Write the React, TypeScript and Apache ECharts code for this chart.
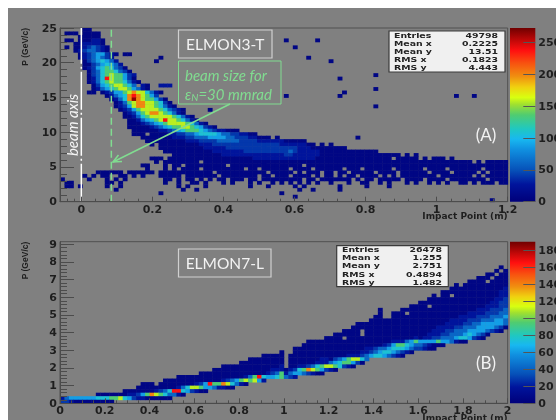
import React, { useEffect, useRef } from "react";
import * as echarts from "echarts";

// One string per P bin, top bin first; one character per Impact Point bin (groups of ten for reading).
// "." = empty bin, other characters index the count lists below.
const levelKeys = "123456789ab";
const levelCountsA = [8, 27, 40, 60, 88, 108, 135, 158, 200, 238, 265];
const levelCountsB = [6, 19, 28, 42, 61, 75, 94, 110, 140, 165, 185];

const rowsA = [
  ".....11...",
  ".111.1111.",
  "....11111.",
  ".11.111221 .......... .......... .......... .......... 1......1..",
  "...1122221",
  ".1.1123432 1......... .......... .......... .......... ..1.......",
  "...1234432 1",
  "....123455 321.11.... .......... .......... .......... .......... .......... ........1.",
  "....123454 32........ ..1....... .......... .......... .....1....",
  ".....13456 542....... .1........ .......... .......... .......... 1.........",
  ".....11345 6542",
  ".....12356 76431",
  "......1346 776431",
  "......1346 7877532... .......... .......... .......... .......... .......... 1.........",
  "......1246 a877531... .......... .......... .......... .......... ..1.......",
  "......1246 78776421",
  ".......135 6788764.21 ..222",
  ".......124 5678875421 .......... .......... .......... .......... .......... 1.........",
  "......11.1 2355789886 421....... .......... .......... .......... ...1......",
  ".......... 124569a987 53........ .......... .......... 1......... ..1....... .......... ........1. ..1.......",
  ".......... .12469b987 7531",
  ".......... ..12478998 87631",
  ".......... ..12358998 876421.... .......... .......... .......... .......... 1.........",
  ".......... ...1235788 88764321.. ...1......",
  ".......... ....123578 99876421",
  ".......... ....112467 8888876421",
  ".......... .....11245 678a887642 1",
  ".......... .....11123 4567888876 421",
  ".......... .....11111 2345677887 65321",
  ".......... ......1111 1122345677 7654322111",
  ".......... ......111. 1111223344 5666654433 2211",
  ".......... ........11 1111122233 4445555443 3322111.1. .......... ......1...",
  ".......... .........1 1111111122 2333344444 3333222222 11111",
  ".......... .......... 1.11111111 1222333333 3333333332 2222211.1. 1",
  ".......... .......... ..11111111 1122222333 3333333333 3332221111 1111",
  ".......... .......... ...1111111 1111222222 2333333333 3432222211 1111111111 1",
  ".......... .......... .....11111 1111112222 2222222222 3322222211 1111111111 111111.1.1",
  ".......... .......... 111.111111 1111111111 1112222222 2222222111 1111111111 1111.11111 .1.111.1",
  ".......... .......... .1.1111111 1.11111111 1111111111 1111111111 1111111111 1111111111 1111111111 11.1.11111",
  ".......... ........11 ...1.11.11 1111111.11 1111111111 1111.11111 1111111111 1111111111 1111111111 1111111111",
  ".......... .........1 ...1.1.111 1.11111111 1.11.11111 1.1111.111 111.111.11 1111.11111 1.1111.111 1111.11111",
  "........11 1111.11111 1.11111111 1111.11111 111111.111 11.1.111.1 1.11.11111 .1111.1111 11.1111.11 111.1.1111",
  ".....1.1.1 1..11.1.1. ..11111.11 11111.1111 1111.11.11 1.1111.1.1 1.1.11.111 1.1.1.1111 1111.11111 11.1.11111",
  "1.....1... 1.1.1..... ...11.1.11 .1.1.11.11 1.11.11111 1111.11.11 11111.1.11 .11111.111 1.1111.111 11111.1111",
  ".11....... 11.1...... ...1..1..1 1.1...1.1. ..1.1..1.1 .1.1.1.1.. 1...1..11. .1.1...1.1 ..1.1.1..1 1.1.111.11",
  ".11.1..... 1..1...... ......1.1. ..1....... ..1...1... ..1.1..... ..1.....1. ...1......",
  ".......... ..1....... .......1.. 1......... .......... ...1..1... ..1.......",
  ".......... .......... ..1....... .......... .........1",
  ".......... .......... .......... .......... .......... ..1.......",
  ".......... .......... .......... .......... .......... .......... .......... .......... .......... ......1...",
];

const rowsB = [
  ".......... .......... .......... .......... .......... .......... .......... .......... .......... ........1.",
  ".......... .......... .......... .......... .......... .......... .......... .......... .......... .......1.1",
  ".......... .......... .......... .......... .......... .......... .......... .......... .......... .....11.11",
  ".......... .......... .......... .......... .......... .......... .......... .......... .......... ...111.111",
  ".......... .......... .......... .......... .......... .......... .......... .......... .......... .1111.1111",
  ".......... .......... .......... .......... .......... .......... .......... .......... ........1. 1111111111",
  ".......... .......... .......... .......... .......... .......... .......... .......... .......111 1111111112",
  ".......... .......... .......... .......... .......... .......... .......... .......... .....11111 1111111122",
  ".......... .......... .......... .......... .......... .......... .......... .......... ...1.11.11 1111111122",
  ".......... .......... .......... .......... .......... .......... .......... .......... ..11111111 1111111223",
  ".......... .......... .......... .......... .......... .......... .......... .......... 1111111111 1111112233",
  ".......... .......... .......... .......... .......... .......... .......... ........11 11.1111111 1111122233",
  ".......... .......... .......... .......... .......... .......... .......... .1....1111 1111111111 1112223334",
  ".......... .......... .......... .......... .......... .......... .......... .1..111.11 1111111111 1222233344",
  ".......... .......... .......... .......... .......... .......... .......... 11..111111 1111111112 2223334445",
  ".......... .......... .......... .......... .......... .......... .........1 1111111111 1111111222 2333444554",
  ".......... .......... .......... .......... .......... .......... ......1111 1111111111 1111112222 3344555554",
  ".......... .......... .......... .......... .......... .......... .....11111 1111111111 1111222233 4445555431",
  ".......... .......... .......... .......... .......... .......... ...1111.11 1111111111 1112223344 455554321.",
  ".......... .......... .......... .......... .......... .......... .111111.11 1111111111 1122233444 565431",
  ".......... .......... .......... .......... .......... .........1 111.111111 1111111112 1223344456 65321",
  ".......... .......... .......... .......... .......... .....11111 1111111111 1111222457 5555755421 1",
  ".......... .......... .......... .......... .......... ....111111 1111111111 1123577654 432111",
  ".......... .......... .......... .......... .......... ..11111111 1111111122 3445666543 3211",
  ".......... .......... .......... .......... .........1 ..11111111 1111111223 456654321",
  ".......... .......... .......... .......... .....11111 .111111111 1111222345 6654321",
  ".......... .......... .......... .......... ..11111111 .111111122 134578864",
  ".......... .......... .......... .......... 1111111111 .111111222 45677531",
  ".......... .......... .......... ......1111 1111111112 .112234678 876321",
  ".......... .......... .......... ....111111 1111111222 1236798753 21",
  ".......... .......... .......... .111111111 1111112347 245543211",
  ".......... .......... ......1111 1111111111 1247a65567 432",
  ".......... .......... ...1111111 1111112345 787852",
  ".......... ........11 1.11111111 235a779864 21",
  ".......... .......111 1111112468 875542211",
  ".......... ....111111 1234 6aa653 211",
  "........11 1111122357 9876442 1",
  "2455555566 6778653221 11111",
  "3321111111 11",
];

const maxCountA = 273;
const maxCountB = 190;

const tickXA = [0, 0.2, 0.4, 0.6, 0.8, 1, 1.2];
const tickYA = [0, 5, 10, 15, 20, 25];
const tickBarA = [0, 50, 100, 150, 200, 250];
const tickXB = [0, 0.2, 0.4, 0.6, 0.8, 1, 1.2, 1.4, 1.6, 1.8, 2];
const tickYB = [0, 1, 2, 3, 4, 5, 6, 7, 8, 9];
const tickBarB = [0, 20, 40, 60, 80, 100, 120, 140, 160, 180];

const minorXA = [-0.04, -0.02, 0.04, 0.08, 0.12, 0.16, 0.24, 0.28, 0.32, 0.36, 0.44, 0.48, 0.52, 0.56, 0.64, 0.68, 0.72, 0.76, 0.84, 0.88, 0.92, 0.96, 1.04, 1.08, 1.12, 1.16];
const minorYA = [1, 2, 3, 4, 6, 7, 8, 9, 11, 12, 13, 14, 16, 17, 18, 19, 21, 22, 23, 24];
const minorXB = [0.05, 0.1, 0.15, 0.25, 0.3, 0.35, 0.45, 0.5, 0.55, 0.65, 0.7, 0.75, 0.85, 0.9, 0.95, 1.05, 1.1, 1.15, 1.25, 1.3, 1.35, 1.45, 1.5, 1.55, 1.65, 1.7, 1.75, 1.85, 1.9, 1.95];
const minorYB = [0.2, 0.4, 0.6, 0.8, 1.2, 1.4, 1.6, 1.8, 2.2, 2.4, 2.6, 2.8, 3.2, 3.4, 3.6, 3.8, 4.2, 4.4, 4.6, 4.8, 5.2, 5.4, 5.6, 5.8, 6.2, 6.4, 6.6, 6.8, 7.2, 7.4, 7.6, 7.8, 8.2, 8.4, 8.6, 8.8];

const statsLabels = ["Entries", "Mean x", "Mean y", "RMS x", "RMS y"];
const statsA = ["49798", "0.2225", "13.51", "0.1823", "4.443"];
const statsB = ["26478", "1.255", "2.751", "0.4894", "1.482"];

const paletteStops: [number, string][] = [
  [0, "#00007a"], [0.1, "#00149c"], [0.18, "#0650b8"], [0.3, "#1090e0"], [0.36, "#18b8f0"],
  [0.42, "#20c8c0"], [0.5, "#50cc70"], [0.56, "#a0e030"], [0.6, "#d8ff10"], [0.66, "#f0d010"],
  [0.72, "#f09010"], [0.8, "#f85010"], [0.87, "#ff1010"], [0.93, "#c00808"], [1, "#700000"],
];

const hex = (c: string) => [1, 3, 5].map((k) => parseInt(c.slice(k, k + 2), 16));
function paletteColor(f: number) {
  for (let k = 1; k < paletteStops.length; k++) {
    if (f <= paletteStops[k][0]) {
      const [f0, c0] = paletteStops[k - 1];
      const [f1, c1] = paletteStops[k];
      const t = (f - f0) / (f1 - f0);
      const a = hex(c0), b = hex(c1);
      return `rgb(${a.map((v, n) => Math.round(v + (b[n] - v) * t)).join(",")})`;
    }
  }
  return paletteStops[paletteStops.length - 1][1];
}

function toCells(rows: string[], x0: number, dx: number, dy: number, counts: number[]) {
  const cells: number[][] = [];
  rows.forEach((raw, r) => {
    const row = raw.replace(/ /g, "");
    const y = (rows.length - 1 - r) * dy;
    for (let i = 0; i < row.length; i++) {
      const k = levelKeys.indexOf(row[i]);
      if (k >= 0) cells.push([x0 + i * dx, y, x0 + (i + 1) * dx, y + dy, counts[k]]);
    }
  });
  return cells;
}

const FONT = "DejaVu Sans";
const SERIF = "Lato";
const P = (v: number) => v - 8; // page pixel to chart pixel
const LABEL = "#1e1e1e";
const TICK = "#4c4c4c";

function cellSeries(xi: number, yi: number, data: number[][], max: number) {
  return {
    type: "custom", xAxisIndex: xi, yAxisIndex: yi, silent: true, data, z: 2,
    encode: { x: [0, 2], y: [1, 3] },
    renderItem: (_: any, api: any) => {
      const a = api.coord([api.value(0), api.value(1)]);
      const b = api.coord([api.value(2), api.value(3)]);
      return { type: "rect", shape: { x: a[0], y: b[1], width: b[0] - a[0] + 0.4, height: a[1] - b[1] + 0.4 }, style: { fill: paletteColor(api.value(4) / max) } };
    },
  };
}

function barSeries(xi: number, yi: number, max: number) {
  return {
    type: "custom", xAxisIndex: xi, yAxisIndex: yi, silent: true, data: [[0, 0, 1, max]], z: 2,
    encode: { x: [0, 2], y: [1, 3] },
    renderItem: (_: any, api: any) => {
      const a = api.coord([0, 0]);
      const b = api.coord([1, max]);
      return {
        type: "rect", shape: { x: a[0], y: b[1], width: b[0] - a[0], height: a[1] - b[1] },
        style: { fill: new echarts.graphic.LinearGradient(0, 1, 0, 0, paletteStops.map(([offset, color]) => ({ offset, color }))) },
      };
    },
  };
}

const guide = (xi: number, yi: number, x: number, top: number, color: string, dash: number[], width: number) => ({
  type: "line", xAxisIndex: xi, yAxisIndex: yi, silent: true, showSymbol: false, symbol: "none", z: 4,
  data: [[x, 0], [x, top]], lineStyle: { color, type: dash, width },
});

const mainX = (grid: number, min: number, max: number, ticks: number[]) => ({
  type: "value", gridIndex: grid, min, max, position: "bottom", z: 5,
  name: "Impact Point (m)", nameLocation: "end", nameGap: 0, nameMoveOverlap: false,
  nameTextStyle: { fontFamily: FONT, fontWeight: "bold", fontSize: 9, color: LABEL, align: "right", verticalAlign: "top", padding: [10, 0, 0, 0] },
  axisLine: { show: true, onZero: false, lineStyle: { color: TICK } },
  axisTick: { show: true, inside: true, length: 5, customValues: ticks, lineStyle: { color: TICK } },
  axisLabel: { show: true, customValues: ticks, margin: 2, fontFamily: FONT, fontWeight: "bold", fontSize: 11, color: LABEL, hideOverlap: false, showMinLabel: true, showMaxLabel: true },
  splitLine: { show: false },
});
const mainY = (grid: number, min: number, max: number, ticks: number[]) => ({
  type: "value", gridIndex: grid, min, max, position: "left", z: 5,
  name: "P (GeV/c)", nameLocation: "end", nameRotate: 90, nameGap: 0, nameMoveOverlap: false,
  nameTextStyle: { fontFamily: "Liberation Sans", fontWeight: "bold", fontSize: 8.5, color: LABEL, align: "right", verticalAlign: "bottom", padding: [0, 0, 31, 0] },
  axisLine: { show: true, onZero: false, lineStyle: { color: TICK } },
  axisTick: { show: true, inside: true, length: 14, customValues: ticks, lineStyle: { color: TICK } },
  axisLabel: { show: true, customValues: ticks, margin: 3, fontFamily: FONT, fontWeight: "bold", fontSize: 11, color: LABEL },
  splitLine: { show: false },
});
const minorX = (grid: number, min: number, max: number, ticks: number[]) => ({
  type: "value", gridIndex: grid, min, max, position: "bottom", z: 5,
  axisLine: { show: false, onZero: false },
  axisTick: { show: true, inside: true, length: 3, customValues: ticks, lineStyle: { color: TICK } },
  axisLabel: { show: false }, splitLine: { show: false },
});
const minorY = (grid: number, min: number, max: number, ticks: number[]) => ({
  type: "value", gridIndex: grid, min, max, position: "left", z: 5,
  axisLine: { show: false, onZero: false },
  axisTick: { show: true, inside: true, length: 7, customValues: ticks, lineStyle: { color: TICK } },
  axisLabel: { show: false }, splitLine: { show: false },
});
const hiddenX = (grid: number) => ({ type: "value", gridIndex: grid, min: 0, max: 1, show: false });
const barY = (grid: number, max: number, ticks: number[]) => ({
  type: "value", gridIndex: grid, min: 0, max, position: "right", z: 5,
  axisLine: { show: false, onZero: false },
  axisTick: { show: true, inside: true, length: 12, customValues: ticks, lineStyle: { color: "#555" } },
  axisLabel: { show: true, customValues: ticks, margin: 3, fontFamily: FONT, fontWeight: "bold", fontSize: 11, color: LABEL },
  splitLine: { show: false },
});

function labelBox(x: number, y: number, w: number, h: number, text: string) {
  return [
    { type: "rect", z: 20, shape: { x: P(x), y: P(y), width: w, height: h }, style: { fill: "transparent", stroke: "#d0d0d0", lineWidth: 1.2 } },
    { type: "text", z: 20, x: P(x + w / 2), y: P(y + h / 2), style: { text, font: `15.5px ${SERIF}`, fill: "#f2f2f2", align: "center", verticalAlign: "middle" } },
  ];
}

function statBox(x0: number, y0: number, w: number, h: number, left: number, right: number, rows: number[], values: string[]) {
  const items: any[] = [
    { type: "rect", z: 20, shape: { x: P(x0), y: P(y0), width: w, height: h }, style: { fill: "#f0f0f0", stroke: "#3a3a3a", lineWidth: 1.2 } },
  ];
  statsLabels.forEach((label, k) => {
    items.push({ type: "text", z: 21, x: P(left), y: P(rows[k]), scaleX: 1.25, style: { text: label, font: `bold 7.5px ${FONT}`, fill: "#222", align: "left", verticalAlign: "middle" } });
    items.push({ type: "text", z: 21, x: P(right), y: P(rows[k]), scaleX: 1.25, style: { text: values[k], font: `bold 7.5px ${FONT}`, fill: "#222", align: "right", verticalAlign: "middle" } });
  });
  return items;
}

const GREEN = "#80dc90";

export default function App() {
  const ref = useRef<HTMLDivElement>(null);
  useEffect(() => {
    const chart = echarts.init(ref.current!, undefined, { renderer: "svg" });
    const gridA = { left: 52, top: 20, width: 447.7, height: 173.7 };
    const gridB = { left: 52, top: 233.7, width: 447.7, height: 161.6 };
    const frame = { show: true, backgroundColor: "transparent", borderColor: "#505050", borderWidth: 1, outerBoundsMode: "none" };
    const xMinA = -0.06, xMaxA = 1.2, yMaxB = 9.14;
    chart.setOption({
      animation: false,
      backgroundColor: "#808080",
      grid: [
        { ...gridA, ...frame },
        { left: 502, top: 20, width: 25.3, height: 173.7, show: false, outerBoundsMode: "none" },
        { ...gridB, ...frame },
        { left: 502, top: 233.7, width: 25.3, height: 161.6, show: false, outerBoundsMode: "none" },
      ],
      xAxis: [
        mainX(0, xMinA, xMaxA, tickXA), minorX(0, xMinA, xMaxA, minorXA), hiddenX(1),
        mainX(2, 0, 2, tickXB), minorX(2, 0, 2, minorXB), hiddenX(3),
      ],
      yAxis: [
        mainY(0, 0, 25, tickYA), minorY(0, 0, 25, minorYA), barY(1, maxCountA, tickBarA),
        mainY(2, 0, yMaxB, tickYB), minorY(2, 0, yMaxB, minorYB), barY(3, maxCountB, tickBarB),
      ],
      series: [
        cellSeries(0, 0, toCells(rowsA, xMinA, 0.0126, 0.5, levelCountsA), maxCountA),
        barSeries(2, 2, maxCountA),
        cellSeries(3, 3, toCells(rowsB, 0, 0.02, 0.2, levelCountsB), maxCountB),
        barSeries(5, 5, maxCountB),
        guide(0, 0, 0, 25, "#ffffff", [38, 3, 2, 3], 1.5),
        guide(0, 0, 0.0845, 25, GREEN, [7, 4], 1.5),
      ],
      graphic: [
        ...labelBox(178.5, 30, 93.5, 28, "ELMON3-T"),
        ...labelBox(178.5, 249, 92.5, 28, "ELMON7-L"),
        { type: "rect", z: 20, shape: { x: P(178.5), y: P(61), width: 102.5, height: 43 }, style: { fill: "transparent", stroke: GREEN, lineWidth: 1 } },
        { type: "text", z: 21, x: P(185), y: P(75), style: { text: "beam size for", font: `italic 15px ${SERIF}`, fill: GREEN, align: "left", verticalAlign: "middle" } },
        {
          type: "text", z: 21, x: P(185), y: P(94),
          style: {
            text: "{m|ε}{s|N}{m|=30 mmrad}", align: "left", verticalAlign: "middle",
            rich: {
              m: { font: `italic 15px ${SERIF}`, fill: GREEN, color: GREEN },
              s: { font: `italic 10px ${SERIF}`, fill: GREEN, color: GREEN, padding: [6, 0, 0, 0] },
            },
          },
        },
        { type: "polyline", z: 21, shape: { points: [[P(230), P(104)], [P(113), P(162)]] }, style: { stroke: GREEN, lineWidth: 1.5, fill: "none" } },
        { type: "polyline", z: 21, shape: { points: [[P(122), P(161.5)], [P(113), P(162)], [P(118.5), P(155)]] }, style: { stroke: GREEN, lineWidth: 1.5, fill: "none" } },
        { type: "text", z: 21, x: P(72), y: P(125), rotation: Math.PI / 2, style: { text: "beam axis", font: `italic 15px ${SERIF}`, fill: "#f4f4f4", align: "center", verticalAlign: "middle" } },
        { type: "text", z: 21, x: P(486), y: P(134), style: { text: "(A)", font: `17px ${SERIF}`, fill: "#f2f2f2", align: "center", verticalAlign: "middle" } },
        { type: "text", z: 21, x: P(486), y: P(362), style: { text: "(B)", font: `17px ${SERIF}`, fill: "#f2f2f2", align: "center", verticalAlign: "middle" } },
        ...statBox(389, 31, 116, 41, 394, 498, [35, 43, 51, 59, 67], statsA),
        ...statBox(336.7, 245.7, 111.6, 41, 342, 442, [249.3, 257.7, 265.7, 274.3, 282.3], statsB),
      ],
    });
    return () => chart.dispose();
  }, []);
  return <div ref={ref} style={{ position: "absolute", left: 8, top: 8, width: 548, height: 412, overflow: "hidden", filter: "blur(0.5px)" }} />;
}
